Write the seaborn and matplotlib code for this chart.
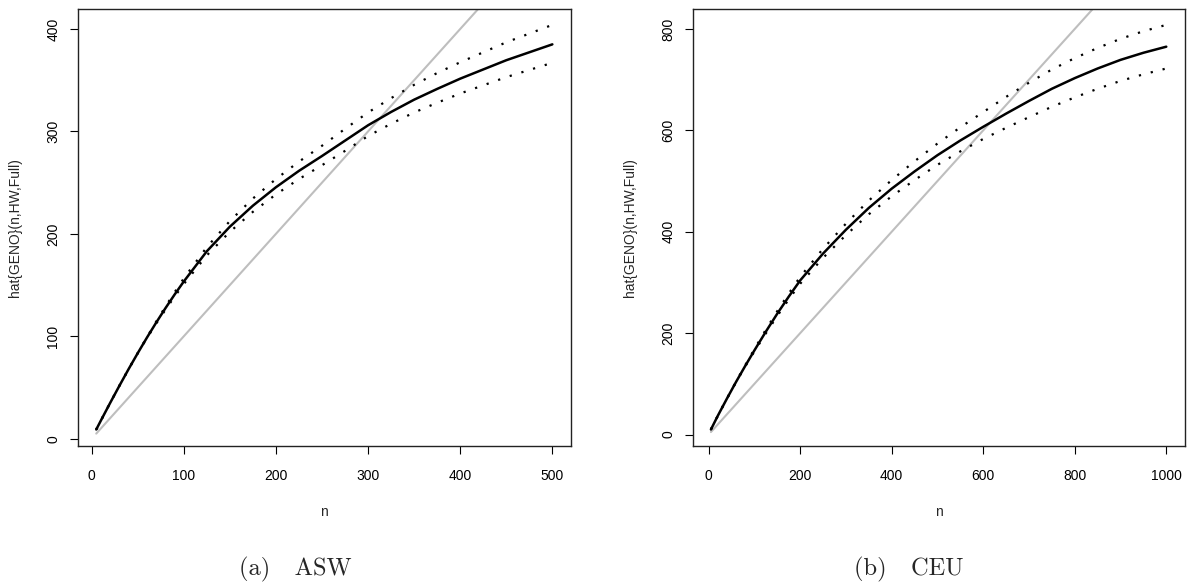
import numpy as np
import pandas as pd
import matplotlib
matplotlib.use("Agg")
import matplotlib.pyplot as plt
import seaborn as sns

# ASW panel
n_asw = [5, 10, 20, 30, 40, 50, 60, 70, 80, 90, 100, 125, 150, 175, 200, 225,
         250, 275, 300, 325, 350, 375, 400, 450, 500]
geno_asw = [9, 17.7, 34.8, 51.5, 67.8, 83.5, 98.7, 113.3, 127.3, 140.7, 153.5,
            183, 207, 227.5, 245.5, 261.5, 276, 291, 306, 319, 331, 341.5,
            351.5, 369.5, 385]
upper_asw = [9, 17.7, 34.8, 51.5, 67.8, 83.5, 99.2, 114.3, 128.8, 142.9, 156.5,
             187, 212.5, 234.5, 253.5, 270.5, 286, 302.5, 318.5, 332.5, 345.5,
             357, 367.5, 387, 404]
lower_asw = [9, 17.7, 34.8, 51.5, 67.8, 83.5, 98.2, 112.3, 125.8, 138.7, 151,
             179, 202, 221.5, 238.5, 253.5, 267, 281, 295.5, 307.5, 318.5, 328,
             337, 353, 367]

# CEU panel
n_ceu = [5, 10, 20, 40, 60, 80, 100, 125, 150, 175, 200, 250, 300, 350, 400,
         450, 500, 550, 600, 650, 700, 750, 800, 850, 900, 950, 1000]
geno_ceu = [10, 19, 37, 71, 104, 135.5, 166, 203, 238.5, 272, 304, 357, 404,
            447, 485, 519, 551, 580, 607, 633, 658, 682, 703, 722, 739, 753, 765]
upper_ceu = [10, 19, 37, 71, 104.5, 137, 168.5, 207, 243.5, 278, 311, 366.5,
             416, 461.5, 502, 539, 574, 606, 636, 666, 694, 720, 742.5, 762.5,
             780.5, 795.5, 808]
lower_ceu = [10, 19, 37, 71, 103.5, 134.5, 164, 199.5, 234, 266.5, 297.5, 348.5,
             393.5, 434.5, 470, 502, 532, 558.5, 583, 605, 626, 646.5, 665, 682,
             697.5, 710.5, 722]

xticks_asw = [0, 100, 200, 300, 400, 500]
yticks_asw = [0, 100, 200, 300, 400]
xticks_ceu = [0, 200, 400, 600, 800, 1000]
yticks_ceu = [0, 200, 400, 600, 800]

sns.set_style("white")
plt.rcParams['font.family'] = ['Liberation Sans', 'DejaVu Sans']

W, H = 1198, 586
fig = plt.figure(figsize=(W / 100, H / 100), dpi=100)
ax1 = fig.add_axes([78 / W, 1 - 445.7 / H, 492.6 / W, 437 / H])
ax2 = fig.add_axes([692.7 / W, 1 - 445.7 / H, 491.8 / W, 437 / H])


def r_range(vals):
    # R style axis range: data range plus 4% on each side
    lo, hi = min(vals), max(vals)
    pad = 0.04 * (hi - lo)
    return lo - pad, hi + pad


def draw_panel(ax, n, geno, upper, lower, xticks, yticks):
    df = pd.DataFrame({'n': n, 'geno': geno, 'upper': upper, 'lower': lower})
    sns.lineplot(data=df, x='n', y='n', color='#BEBEBE', lw=1.5,
                 estimator=None, sort=False, ax=ax)
    sns.lineplot(data=df, x='n', y='geno', color='black', lw=1.8,
                 estimator=None, sort=False, ax=ax)
    for col in ['upper', 'lower']:
        sns.lineplot(data=df, x='n', y=col, color='black', lw=1.6,
                     linestyle=(0, (1, 4.5)), estimator=None, sort=False, ax=ax)

    ax.set_xlim(r_range(n))
    ax.set_ylim(r_range(geno + upper + lower))
    ax.set_xticks(xticks)
    ax.set_yticks(yticks)
    ax.set_xlabel('n', fontsize=10)
    ax.set_ylabel('hat{GENO}(n,HW,Full)', fontsize=10)
    ax.xaxis.set_label_coords(0.5, -0.136)
    ax.yaxis.set_label_coords(-0.113, 0.5)
    for sp in ax.spines.values():
        sp.set_color('#222222')
        sp.set_linewidth(1.0)
    ax.tick_params(axis='both', direction='out', length=6, width=0.8,
                   colors='black', labelsize=10, bottom=True, left=True)
    ax.tick_params(axis='x', pad=11)
    ax.tick_params(axis='y', labelrotation=90, pad=6.6)
    for lab in ax.get_yticklabels():
        lab.set_verticalalignment('center')


draw_panel(ax1, n_asw, geno_asw, upper_asw, lower_asw, xticks_asw, yticks_asw)
draw_panel(ax2, n_ceu, geno_ceu, upper_ceu, lower_ceu, xticks_ceu, yticks_ceu)

fig.text(295 / W, 1 - 575 / H, '(a)   ASW', family='cmr10', fontsize=17.6,
         ha='center', va='baseline')
fig.text(909 / W, 1 - 575 / H, '(b)   CEU', family='cmr10', fontsize=17.6,
         ha='center', va='baseline')

fig.savefig('out.png', dpi=100)
